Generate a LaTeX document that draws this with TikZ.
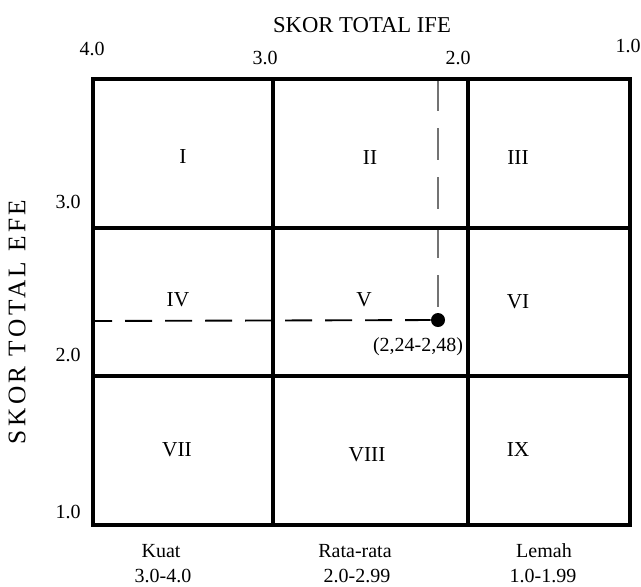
\documentclass[tikz,border=0pt]{standalone}
\usepackage{fontspec}
\setmainfont{Liberation Serif}
\newfontfamily\spacedserif[LetterSpace=14]{Liberation Serif}
\begin{document}
\begin{tikzpicture}[x=0.75pt,y=-0.75pt,
  gridline/.style={line width=3.4pt, line cap=rect},
  lbl/.style={inner sep=0pt, font=\fontsize{15}{18}\selectfont},
  cell/.style={inner sep=0pt, font=\fontsize{16}{19}\selectfont},
  axistitle/.style={inner sep=0pt, font=\fontsize{17}{20}\selectfont},
  vaxistitle/.style={inner sep=0pt, rotate=90, font=\spacedserif\fontsize{19}{23}\selectfont},
  hdash/.style={line width=1.4pt, black, dash pattern=on 20.25pt off 9.75pt, dash phase=6pt},
  vdash/.style={line width=1.4pt, black!55, dash pattern=on 24pt off 12.75pt},
  point/.style={circle, fill=black, inner sep=0pt, minimum size=10.5pt}]
\useasboundingbox (0,0) rectangle (641,586);
% point and dashed guides
\node[point] (p) at (438,320) {};
\coordinate (ptop) at (438,79);
\coordinate (pleft) at (93,321);
\draw[vdash] (ptop) -- (p);
\draw[hdash] (pleft) -- (p);
% grid
\coordinate (tl) at (93,79);
\coordinate (br) at (630,525);
\draw[gridline] (tl) rectangle (br);
\draw[gridline] (273,79) -- (273,525);
\draw[gridline] (468,79) -- (468,525);
\draw[gridline] (93,228) -- (630,228);
\draw[gridline] (93,376) -- (630,376);
% cell labels
\node[cell] (c1) at (183,157) {I};
\node[cell] (c2) at (370,158) {II};
\node[cell] (c3) at (518,158) {III};
\node[cell] (c4) at (178,300) {IV};
\node[cell] (c5) at (364,300) {V};
\node[cell] (c6) at (518,302) {VI};
\node[cell] (c7) at (177,450) {VII};
\node[cell] (c8) at (367,455) {VIII};
\node[cell] (c9) at (518,450) {IX};
\node[lbl] (plbl) at (418,347) {(2,24-2,48)};
% axis titles
\node[axistitle] (xt) at (362,25) {SKOR TOTAL IFE};
\node[vaxistitle] (yt) at (17,322) {SKOR TOTAL EFE};
% top scale
\node[lbl] (x4) at (92,49) {4.0};
\node[lbl] (x3) at (265,58) {3.0};
\node[lbl] (x2) at (458,58) {2.0};
\node[lbl] (x1) at (628,46) {1.0};
% left scale
\node[lbl] (y3) at (68,202) {3.0};
\node[lbl] (y2) at (68,355) {2.0};
\node[lbl] (y1) at (68,512) {1.0};
% bottom labels
\node[lbl] (b1) at (161,551) {Kuat};
\node[lbl] (b1r) at (163,576) {3.0-4.0};
\node[lbl] (b2) at (355,551) {Rata-rata};
\node[lbl] (b2r) at (357,576) {2.0-2.99};
\node[lbl] (b3) at (544,551) {Lemah};
\node[lbl] (b3r) at (543,576) {1.0-1.99};
\end{tikzpicture}
\end{document}
